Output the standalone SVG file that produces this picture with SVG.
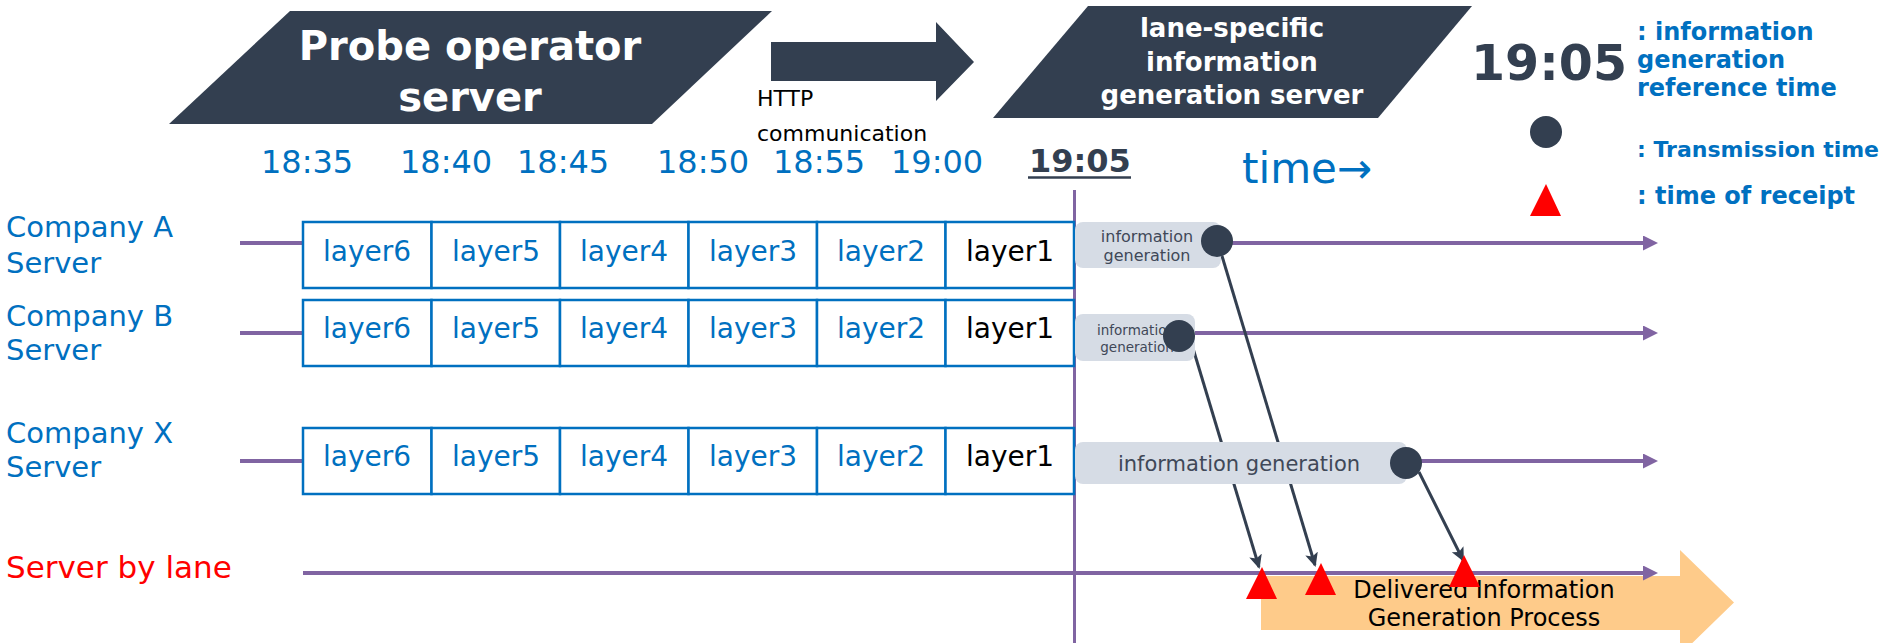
<svg xmlns="http://www.w3.org/2000/svg" width="1893" height="643" viewBox="0 0 1893 643">
<style>
text { font-family: "DejaVu Sans", Verdana, sans-serif; }
.dark { fill: #333F50; }
.white { fill: #FFFFFF; font-weight: bold; }
.blue { fill: #0070C0; }
.tm { fill: #0070C0; font-size: 32px; }
.leg { fill: #0070C0; font-size: 24px; font-weight: bold; }
.comp { fill: #0070C0; font-size: 29px; }
.cell { fill: #FFFFFF; stroke: #0070C0; stroke-width: 2.5; }
.lay { font-size: 28px; text-anchor: middle; fill: #0070C0; }
.lay1 { fill: #000000; }
.lane { stroke: #8064A2; stroke-width: 4; fill: none; }
.info { fill: #D6DCE5; }
.itxt { fill: #404858; text-anchor: middle; }
.dot { fill: #333F50; }
.tx { stroke: #333F50; stroke-width: 3; fill: none; }
.rcv { fill: #FF0000; }
</style>
<defs>
<marker id="pArrow" markerUnits="userSpaceOnUse" markerWidth="16" markerHeight="16" refX="8" refY="7.5" orient="auto">
<path d="M0,0 L15,7.5 L0,15 z" fill="#8064A2"/>
</marker>
<marker id="dArrow" markerUnits="userSpaceOnUse" markerWidth="16" markerHeight="14" refX="12" refY="6.5" orient="auto">
<path d="M0,0 L14,6.5 L0,13 L3,6.5 z" fill="#333F50"/>
</marker>
</defs>

<!-- Header nodes -->
<g id="probe-server">
<polygon class="dark" points="169,124 290,11 772,11 652,124"/>
<text class="white" x="470" y="60" font-size="40" text-anchor="middle">Probe operator</text>
<text class="white" x="470" y="111" font-size="40" text-anchor="middle">server</text>
</g>

<g id="http-arrow">
<polygon class="dark" points="771,42 936,42 936,22 974,62 936,101 936,81 771,81"/>
<text x="757" y="106" font-size="22" fill="#000000">HTTP</text>
<text x="757" y="141" font-size="22" fill="#000000">communication</text>
</g>

<g id="lane-specific-server">
<polygon class="dark" points="993,118 1088,6 1472,6 1378,118"/>
<text class="white" x="1232" y="37" font-size="26" text-anchor="middle">lane-specific</text>
<text class="white" x="1232" y="71" font-size="26" text-anchor="middle">information</text>
<text class="white" x="1232" y="104" font-size="26" text-anchor="middle">generation server</text>
</g>

<!-- Time axis labels -->
<g id="time-labels">
<text class="tm" x="261" y="173">18:35</text>
<text class="tm" x="400" y="173">18:40</text>
<text class="tm" x="517" y="173">18:45</text>
<text class="tm" x="657" y="173">18:50</text>
<text class="tm" x="773" y="173">18:55</text>
<text class="tm" x="891" y="173">19:00</text>
<text x="1029" y="172" font-size="32" font-weight="bold" fill="#333F50">19:05</text>
<line x1="1028" y1="177.5" x2="1131" y2="177.5" stroke="#333F50" stroke-width="2.5"/>
<text class="blue" x="1242" y="183" font-size="42">time→</text>
</g>

<!-- Legend -->
<g id="legend">
<text x="1471" y="80" font-size="49" font-weight="bold" fill="#333F50">19:05</text>
<text class="leg" x="1637" y="40">: information</text>
<text class="leg" x="1637" y="68">generation</text>
<text class="leg" x="1637" y="96">reference time</text>
<ellipse class="dot" cx="1546" cy="132" rx="16" ry="16"/>
<text class="leg" x="1637" y="157" style="font-size:22px">: Transmission time</text>
<polygon class="rcv" points="1546,184 1561,216 1530,216"/>
<text class="leg" x="1637" y="204">: time of receipt</text>
</g>

<!-- Reference-time vertical line -->
<line id="ref-line" x1="1074.5" y1="190" x2="1074.5" y2="643" stroke="#8064A2" stroke-width="3"/>

<!-- Orange process arrow -->
<g id="delivered-process">
<polygon points="1261,576 1680,576 1680,550 1734,602.5 1680,655 1680,630 1261,630" fill="#FECB8A"/>
<text x="1484" y="598" font-size="24" text-anchor="middle" fill="#000000">Delivered Information</text>
<text x="1484" y="626" font-size="24" text-anchor="middle" fill="#000000">Generation Process</text>
</g>

<!-- Connectors -->
<g id="connectors">
<line class="lane" x1="240" y1="243" x2="1651" y2="243" marker-end="url(#pArrow)"/>
<line class="lane" x1="240" y1="333" x2="1651" y2="333" marker-end="url(#pArrow)"/>
<line class="lane" x1="240" y1="461" x2="1651" y2="461" marker-end="url(#pArrow)"/>
<line class="lane" x1="303" y1="573" x2="1651" y2="573" marker-end="url(#pArrow)"/>
<line class="tx" x1="1222" y1="256" x2="1315" y2="565" marker-end="url(#dArrow)"/>
<line class="tx" x1="1192" y1="345" x2="1259" y2="567" marker-end="url(#dArrow)"/>
<line class="tx" x1="1419" y1="472" x2="1463" y2="560" marker-end="url(#dArrow)"/>
</g>

<!-- Company A -->
<g id="company-a">
<text class="comp" x="6" y="237">Company A</text>
<text class="comp" x="6" y="273">Server</text>
<rect class="cell" x="303" y="222" width="128.5" height="66"/>
<rect class="cell" x="431.5" y="222" width="128.5" height="66"/>
<rect class="cell" x="560" y="222" width="128.5" height="66"/>
<rect class="cell" x="688.5" y="222" width="128.5" height="66"/>
<rect class="cell" x="817" y="222" width="128.5" height="66"/>
<rect class="cell" x="945.5" y="222" width="128.5" height="66"/>
<text class="lay" x="367" y="261">layer6</text>
<text class="lay" x="496" y="261">layer5</text>
<text class="lay" x="624" y="261">layer4</text>
<text class="lay" x="753" y="261">layer3</text>
<text class="lay" x="881" y="261">layer2</text>
<text class="lay lay1" x="1010" y="261">layer1</text>
</g>

<!-- Company B -->
<g id="company-b">
<text class="comp" x="6" y="326">Company B</text>
<text class="comp" x="6" y="360">Server</text>
<rect class="cell" x="303" y="300" width="128.5" height="66"/>
<rect class="cell" x="431.5" y="300" width="128.5" height="66"/>
<rect class="cell" x="560" y="300" width="128.5" height="66"/>
<rect class="cell" x="688.5" y="300" width="128.5" height="66"/>
<rect class="cell" x="817" y="300" width="128.5" height="66"/>
<rect class="cell" x="945.5" y="300" width="128.5" height="66"/>
<text class="lay" x="367" y="338">layer6</text>
<text class="lay" x="496" y="338">layer5</text>
<text class="lay" x="624" y="338">layer4</text>
<text class="lay" x="753" y="338">layer3</text>
<text class="lay" x="881" y="338">layer2</text>
<text class="lay lay1" x="1010" y="338">layer1</text>
</g>

<!-- Company X -->
<g id="company-x">
<text class="comp" x="6" y="443">Company X</text>
<text class="comp" x="6" y="477">Server</text>
<rect class="cell" x="303" y="428" width="128.5" height="66"/>
<rect class="cell" x="431.5" y="428" width="128.5" height="66"/>
<rect class="cell" x="560" y="428" width="128.5" height="66"/>
<rect class="cell" x="688.5" y="428" width="128.5" height="66"/>
<rect class="cell" x="817" y="428" width="128.5" height="66"/>
<rect class="cell" x="945.5" y="428" width="128.5" height="66"/>
<text class="lay" x="367" y="466">layer6</text>
<text class="lay" x="496" y="466">layer5</text>
<text class="lay" x="624" y="466">layer4</text>
<text class="lay" x="753" y="466">layer3</text>
<text class="lay" x="881" y="466">layer2</text>
<text class="lay lay1" x="1010" y="466">layer1</text>
</g>

<!-- Server by lane -->
<g id="server-by-lane">
<text x="6" y="578" font-size="31" fill="#FF0000">Server by lane</text>
</g>

<!-- Information generation nodes -->
<g id="infogen-a">
<rect class="info" x="1075" y="222" width="146" height="46" rx="8"/>
<text class="itxt" x="1147" y="242" font-size="16">information</text>
<text class="itxt" x="1147" y="261" font-size="16">generation</text>
<circle class="dot" cx="1217" cy="241" r="16"/>
</g>
<g id="infogen-b">
<rect class="info" x="1075" y="314" width="120" height="47" rx="8"/>
<text class="itxt" x="1136" y="335" font-size="13.5">information</text>
<text class="itxt" x="1137" y="352" font-size="13.5">generation</text>
<circle class="dot" cx="1179" cy="336" r="16"/>
</g>
<g id="infogen-x">
<rect class="info" x="1075" y="442" width="332" height="42" rx="8"/>
<text class="itxt" x="1239" y="471" font-size="21">information generation</text>
<circle class="dot" cx="1406" cy="463" r="16"/>
</g>

<!-- Receipt times -->
<g id="receipts">
<polygon class="rcv" points="1262,567 1277,599 1246,599"/>
<polygon class="rcv" points="1321,563 1336,595 1305,595"/>
<polygon class="rcv" points="1464,555 1480,587 1449,587"/>
</g>
</svg>
